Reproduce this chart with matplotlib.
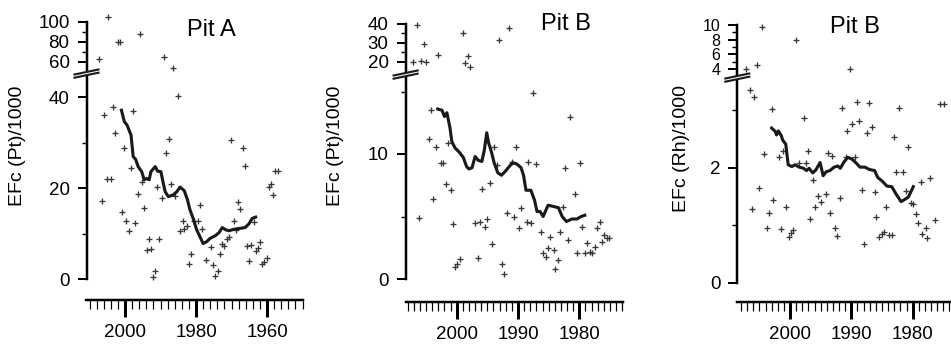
import matplotlib.pyplot as plt
from matplotlib.ticker import FixedLocator, MultipleLocator
from matplotlib.lines import Line2D
from matplotlib.patches import Polygon

plt.rcParams['font.family'] = ['Liberation Sans', 'DejaVu Sans']

W, H = 951, 345

# ---- Pit A, EFc(Pt) ----
a_pts_year = [2003.3, 2005.8, 1997.7, 2002.7, 2000.2, 1987.7, 1988.4, 1998.3, 2005.2, 2003.9,
              2006.5, 1996.4, 1994.6, 2000.8, 1999.6, 1997.1, 1999.0, 1993.3, 1990.3, 1993.9,
              1992.7, 1991.5, 1992.1, 1990.9, 1987.0, 1989.5, 1985.9, 1978.9, 1983.8, 1984.5,
              1983.3, 1982.5, 1980.7, 1979.5, 1978.2, 1981.4, 1982.0, 1977.1, 1975.8, 1975.1,
              1973.9, 1974.6, 1973.2, 1972.7, 1972.0, 1971.3, 1970.6, 1970.1, 1966.9, 1966.3,
              1968.2, 1967.5, 1969.4, 1968.8, 1963.7, 1965.1, 1965.7, 1964.4, 1962.0, 1962.5,
              1963.0, 1960.1, 1960.8, 1961.4, 1957.7, 1957.0, 1958.9, 1959.4, 1958.2, 1995.1,
              2004.7, 2001.9, 2001.4, 1995.8, 2007.2, 1989.0, 1986.4, 1985.2]
a_pts_val = [37.9, 36.0, 36.9, 32.0, 28.9, 30.8, 27.8, 24.3, 22.0, 22.0,
             17.1, 18.7, 15.5, 14.7, 12.7, 12.2, 10.6, 8.8, 8.8, 6.4,
             6.5, 1.7, 0.5, 20.2, 20.9, 17.8, 18.2, 16.2, 12.7, 10.6,
             10.9, 11.7, 12.7, 12.7, 11.1, 5.5, 3.3, 4.1, 7.0, 3.1,
             1.7, 0.7, 5.6, 7.6, 7.3, 8.7, 9.2, 30.5, 28.8, 24.8,
             16.9, 15.3, 12.8, 10.8, 12.5, 4.0, 7.3, 7.5, 8.1, 6.9,
             6.2, 4.7, 3.7, 3.3, 23.7, 23.7, 20.9, 20.2, 18.4, 21.3,
             104.7, 79.7, 79.7, 88.0, 63.3, 64.7, 54.0, 40.2]
a_line_year = [2001.0, 2000.2, 1999.4, 1998.3, 1997.7, 1997.0, 1996.3, 1995.3, 1994.6, 1993.9,
               1993.2, 1992.7, 1991.5, 1990.8, 1989.9, 1989.2, 1988.7, 1987.8, 1986.4, 1985.4,
               1984.5, 1983.3, 1982.4, 1981.7, 1980.8, 1979.8, 1978.9, 1978.0, 1977.0, 1976.1,
               1974.6, 1973.5, 1972.6, 1971.6, 1970.7, 1969.5, 1967.9, 1966.2, 1965.1, 1964.2,
               1963.2]
a_line_val = [37.1, 34.6, 33.8, 31.6, 26.9, 26.3, 24.7, 23.6, 21.8, 22.1,
              21.8, 23.6, 24.7, 23.7, 23.6, 21.0, 19.2, 18.1, 18.5, 19.2,
              20.2, 19.4, 17.4, 15.2, 13.3, 10.8, 9.3, 7.8, 8.2, 8.9,
              9.5, 10.2, 11.3, 10.8, 10.6, 10.9, 11.1, 11.3, 12.1, 13.3,
              13.6]

# ---- Pit B, EFc(Pt) ----
b_pts_year = [2006.5, 2005.4, 2007.1, 2005.8, 2005.0, 2003.0, 1999.0, 1998.2, 1998.6, 1997.8,
              1991.4, 1993.1, 1987.5, 1981.5, 2004.2, 2004.6, 2003.4, 2001.4, 1993.9, 1990.3,
              2002.6, 2002.2, 2001.8, 2001.0, 2003.8, 2006.2, 2000.6, 1997.0, 1996.2, 1995.4,
              1995.0, 1995.9, 1994.6, 1994.2, 1996.6, 1999.5, 1999.9, 2000.2, 1992.6, 1992.3,
              1991.8, 1990.6, 1989.5, 1989.8, 1988.6, 1987.8, 1988.3, 1987.0, 1991.0, 1993.4,
              1986.2, 1984.7, 1983.1, 1981.9, 1985.1, 1984.2, 1985.9, 1985.5, 1983.5, 1983.9,
              1982.3, 1979.9, 1980.7, 1982.7, 1979.5, 1978.7, 1980.3, 1979.1, 1978.3, 1977.9,
              1977.5, 1976.7, 1977.1, 1976.3, 1975.9, 1975.5, 1975.1]
b_pts_val = [39.6, 29.3, 20.0, 20.7, 20.0, 23.7, 35.3, 23.2, 19.5, 17.5,
             37.7, 31.4, 14.9, 13.0, 13.5, 11.2, 10.6, 10.9, 10.6, 10.6,
             9.3, 9.3, 7.6, 7.1, 6.4, 4.9, 4.4, 4.5, 4.6, 4.2,
             4.8, 7.2, 7.7, 2.8, 1.7, 1.6, 1.2, 1.0, 1.2, 0.4,
             5.3, 5.0, 5.7, 4.1, 4.6, 4.5, 9.4, 9.2, 9.4, 9.1,
             3.8, 3.4, 3.8, 3.1, 2.5, 2.3, 2.1, 1.8, 1.5, 0.8,
             8.9, 9.3, 6.8, 5.8, 4.2, 2.9, 2.1, 2.1, 2.2, 2.1,
             2.6, 4.6, 4.1, 3.0, 3.5, 3.3, 3.3]
b_line_year = [2003.1, 2002.4, 2002.0, 2001.6, 2001.1, 2000.8, 2000.3, 1999.5, 1998.9, 1998.4,
               1998.0, 1997.5, 1997.0, 1996.5, 1995.9, 1995.5, 1995.1, 1994.8, 1994.6, 1994.3,
               1993.9, 1993.3, 1992.7, 1992.1, 1991.6, 1990.9, 1990.2, 1989.5, 1989.1, 1988.7,
               1987.9, 1987.3, 1986.9, 1986.4, 1985.9, 1985.1, 1984.2, 1983.4, 1982.8, 1982.1,
               1981.2, 1980.4, 1979.7, 1979.1]
b_line_val = [13.6, 13.5, 13.0, 13.3, 12.1, 11.0, 10.5, 10.1, 9.7, 9.0,
              8.8, 8.9, 9.8, 9.5, 9.4, 10.3, 11.7, 10.9, 10.6, 10.1,
              9.3, 8.5, 8.3, 8.6, 8.9, 9.3, 9.2, 8.9, 8.3, 7.1,
              7.1, 6.3, 5.4, 5.4, 5.0, 5.9, 5.8, 5.7, 5.0, 4.6,
              4.8, 4.8, 5.0, 5.1]

# ---- Pit B, EFc(Rh) ----
c_pts_year = [2004.6, 1999.0, 2005.4, 2007.1, 1990.3, 2006.6, 2005.8, 2003.0, 1997.8, 1991.5,
              1989.1, 1987.1, 1982.3, 1975.5, 1974.9, 1989.9, 1988.7, 1990.7, 1987.5, 1986.7,
              1983.1, 1980.7, 2004.2, 2001.8, 2001.1, 1997.0, 1993.8, 1993.1, 1989.4, 1990.9,
              1998.6, 1997.4, 1996.2, 1995.4, 1994.2, 1995.0, 1995.9, 1991.9, 1993.5, 1996.7,
              1992.7, 1992.3, 1987.9, 1988.3, 1986.2, 1984.3, 1985.9, 1985.5, 1985.0, 1984.7,
              1983.8, 1983.4, 1982.7, 1981.5, 1981.1, 1978.7, 1977.1, 1980.3, 1979.9, 1979.5,
              1979.1, 1977.9, 1978.4, 1977.6, 1976.3, 2005.0, 2006.2, 2002.7, 2003.4, 2000.6,
              2003.8, 2001.5, 1999.5, 1999.8, 2000.2]
c_pts_val = [9.7, 8.0, 4.6, 4.0, 4.0, 3.36, 3.23, 3.02, 2.86, 3.03,
             3.14, 3.13, 3.03, 3.11, 3.11, 2.76, 2.82, 2.63, 2.61, 2.70,
             2.54, 2.36, 2.24, 2.19, 2.29, 2.29, 2.25, 2.21, 2.18, 2.18,
             2.08, 2.09, 1.79, 1.51, 1.55, 1.40, 1.32, 1.47, 1.21, 1.10,
             0.95, 0.81, 0.68, 1.61, 1.57, 1.32, 1.15, 0.80, 0.84, 0.88,
             0.83, 0.83, 1.92, 1.93, 1.59, 1.75, 1.82, 1.39, 1.37, 1.20,
             1.03, 0.96, 0.84, 0.78, 1.09, 1.65, 1.28, 1.43, 1.21, 1.32,
             0.96, 0.93, 0.92, 0.87, 0.79]
c_line_year = [2003.0, 2002.4, 2002.2, 2001.9, 2001.4, 2001.2, 2000.7, 2000.3, 1999.7, 1999.2,
               1998.5, 1997.8, 1997.3, 1996.9, 1996.3, 1995.8, 1995.1, 1994.6, 1994.1, 1993.5,
               1992.8, 1992.2, 1991.8, 1991.2, 1990.6, 1989.9, 1989.2, 1988.6, 1987.8, 1987.1,
               1986.2, 1985.7, 1985.0, 1984.2, 1983.4, 1982.7, 1981.9, 1981.4, 1980.7, 1979.9]
c_line_val = [2.69, 2.63, 2.57, 2.64, 2.55, 2.48, 2.41, 2.05, 2.02, 2.05,
              2.01, 1.99, 1.95, 1.99, 1.91, 1.96, 2.09, 1.86, 1.93, 1.95,
              2.01, 2.03, 1.99, 2.10, 2.18, 2.15, 2.08, 2.01, 2.01, 1.97,
              1.95, 1.83, 1.77, 1.68, 1.67, 1.54, 1.41, 1.44, 1.49, 1.67]

panels = [
    dict(title='Pit A', ylabel='EFc (Pt)/1000', years=a_pts_year, vals=a_pts_val,
         lyears=a_line_year, lvals=a_line_val,
         left=86.5, right=303, xlim=(2010.85, 1949.86), top=22, brk=72, bottom=279,
         lo=(0, 45.5), hi=(50, 100), lo_major=[0, 20, 40], lo_minor=[10, 30],
         hi_major=[60, 80, 100], hi_minor=[70, 90], hi_size=13.5, xmaj=20, xmin=2, xoff=21,
         title_xy=(211, 29.5), ylabel_xy=(18, 146)),
    dict(title='Pit B', ylabel='EFc (Pt)/1000', years=b_pts_year, vals=b_pts_val,
         lyears=b_line_year, lvals=b_line_val,
         left=405.6, right=623, xlim=(2008.34, 1972.87), top=24, brk=73, bottom=279,
         lo=(0, 16.48), hi=(14.2, 40), lo_major=[0, 10], lo_minor=[5, 15],
         hi_major=[20, 30, 40], hi_minor=[25, 35], hi_size=13.5, xmaj=10, xmin=1, xoff=23,
         title_xy=(566, 24), ylabel_xy=(335, 146)),
    dict(title='Pit B', ylabel='EFc (Rh)/1000', years=c_pts_year, vals=c_pts_val,
         lyears=c_line_year, lvals=c_line_val,
         left=737.3, right=951, xlim=(2008.6, 1973.75), top=25, brk=76, bottom=282.7,
         lo=(0, 3.595), hi=(3.045, 10), lo_major=[0, 2], lo_minor=[1, 3],
         hi_major=[4, 6, 8, 10], hi_minor=[5, 7, 9], hi_size=11.5, xmaj=10, xmin=1, xoff=19,
         title_xy=(855, 27), ylabel_xy=(681, 149)),
]

fig = plt.figure(figsize=(W / 100, H / 100), dpi=100)


def box(l, t, r, b):
    return [l / W, 1 - b / H, (r - l) / W, (b - t) / H]


def fx(x):
    return x / W


def fy(y):
    return 1 - y / H


pt = 72 / 100  # points per pixel
lw_spine = 2.5 * pt
mk = dict(marker='+', ls='none', ms=4.8, mew=0.95, color='#383838', clip_on=False)

for p in panels:
    lo_ax = fig.add_axes(box(p['left'], p['brk'], p['right'], p['bottom']))
    hi_ax = fig.add_axes(box(p['left'], p['top'], p['right'], p['brk']))
    for ax in (lo_ax, hi_ax):
        ax.patch.set_visible(False)
        ax.set_xlim(*p['xlim'])
        for s in ('top', 'right', 'bottom'):
            ax.spines[s].set_visible(False)
        ax.spines['left'].set_linewidth(lw_spine)
        ax.tick_params(axis='y', which='major', length=9 * pt, width=2 * pt, pad=8 * pt,
                       labelsize=13.5)
        ax.tick_params(axis='y', which='minor', length=5 * pt, width=1.4 * pt)
    hi_ax.tick_params(axis='y', which='major', labelsize=p['hi_size'])
    lo_ax.set_ylim(*p['lo'])
    hi_ax.set_ylim(*p['hi'])
    lo_ax.yaxis.set_major_locator(FixedLocator(p['lo_major']))
    lo_ax.yaxis.set_minor_locator(FixedLocator(p['lo_minor']))
    hi_ax.yaxis.set_major_locator(FixedLocator(p['hi_major']))
    hi_ax.yaxis.set_minor_locator(FixedLocator(p['hi_minor']))
    hi_ax.set_xticks([])

    # x axis below, detached
    lo_ax.spines['bottom'].set_visible(True)
    lo_ax.spines['bottom'].set_linewidth(lw_spine)
    lo_ax.spines['bottom'].set_position(('outward', p['xoff'] * pt))
    lo_ax.xaxis.set_major_locator(MultipleLocator(p['xmaj']))
    lo_ax.xaxis.set_minor_locator(MultipleLocator(p['xmin']))
    lo_ax.tick_params(axis='x', which='major', length=17 * pt, width=3 * pt, pad=7 * pt,
                      labelsize=13.5)
    lo_ax.tick_params(axis='x', which='minor', length=9 * pt, width=1.2 * pt)

    cut = p['lo'][1]
    ly = [y for y, v in zip(p['years'], p['vals']) if v <= cut]
    lv = [v for v in p['vals'] if v <= cut]
    hy = [y for y, v in zip(p['years'], p['vals']) if v > cut]
    hv = [v for v in p['vals'] if v > cut]
    lo_ax.plot(ly, lv, **mk)
    hi_ax.plot(hy, hv, **mk)
    lo_ax.plot(p['lyears'], p['lvals'], color='#1a1a1a', lw=3.1 * pt,
               solid_joinstyle='round', zorder=3)

    # axis break marks
    sx, sy = p['left'], p['brk']
    hw, dy, gap = 12, 2.5, 3.2
    poly = [(sx - hw, sy + dy), (sx + hw, sy - dy), (sx + hw, sy - dy + gap), (sx - hw, sy + dy + gap)]
    fig.add_artist(Polygon([(fx(a), fy(b)) for a, b in poly], closed=True, fc='white',
                           ec='none', transform=fig.transFigure, zorder=5))
    for off in (0, gap):
        fig.add_artist(Line2D([fx(sx - hw), fx(sx + hw)], [fy(sy + dy + off), fy(sy - dy + off)],
                              color='#1a1a1a', lw=2.1 * pt, transform=fig.transFigure, zorder=6))

    fig.text(fx(p['title_xy'][0]), fy(p['title_xy'][1]), p['title'], ha='center', va='center',
             fontsize=17)
    fig.text(fx(p['ylabel_xy'][0]), fy(p['ylabel_xy'][1]), p['ylabel'], ha='center',
             va='center', rotation=90, fontsize=14)

fig.savefig('out.png', dpi=100)
